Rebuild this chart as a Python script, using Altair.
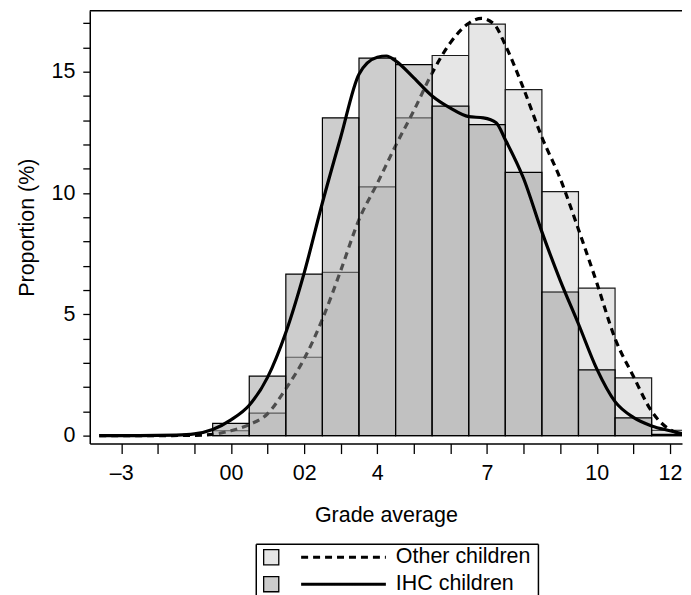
import altair as alt
import pandas as pd

# Histogram bins (grade centres) and proportions (%)
grades = list(range(0, 13))
other_pct = [0.20, 0.93, 3.23, 6.73, 10.25, 13.10, 15.67, 16.96, 14.26, 10.06, 6.08, 2.38, 0.22]
ihc_pct = [0.50, 2.45, 6.66, 13.10, 15.56, 15.29, 13.58, 12.82, 10.85, 5.92, 2.71, 0.73, 0.05]

# Density curves
ihc_x = [-3.6, -2.5, -1.5, -1.0, -0.5, 0.0, 0.5, 1.0, 1.5, 2.0, 2.5, 3.0, 3.5, 4.0, 4.25,
         4.5, 5.0, 5.5, 6.0, 6.5, 6.9, 7.25, 7.5, 8.0, 8.5, 9.0, 9.5, 10.0, 10.5, 11.0,
         11.5, 12.0, 12.5]
ihc_y = [0.0, 0.0, 0.02, 0.07, 0.25, 0.65, 1.25, 2.4, 4.25, 6.7, 9.6, 12.3, 14.9, 15.6, 15.65,
         15.45, 14.75, 14.0, 13.5, 13.15, 13.1, 12.9, 12.2, 10.6, 8.4, 6.4, 4.6, 2.75, 1.4, 0.75,
         0.4, 0.2, 0.02]
other_x = [-3.6, -2.0, -1.0, -0.5, 0.0, 0.5, 1.0, 1.5, 2.0, 2.5, 3.0, 3.5, 4.0, 4.5, 5.0,
           5.5, 6.0, 6.5, 6.85, 7.2, 7.5, 8.0, 8.5, 9.0, 9.5, 10.0, 10.5, 11.0, 11.5, 12.0, 12.5]
other_y = [0.0, 0.0, 0.01, 0.05, 0.2, 0.45, 0.9, 1.93, 3.16, 4.8, 6.8, 8.9, 10.4, 11.95, 13.4,
           14.95, 16.2, 17.0, 17.2, 16.95, 16.1, 14.3, 12.3, 10.6, 8.5, 6.3, 4.0, 2.45, 1.0, 0.25, 0.03]

x_ticks = list(range(-3, 13))
x_labels = {-3: "–3", 0: "00", 2: "02", 4: "4", 7: "7", 10: "10", 12: "12"}
y_ticks = list(range(0, 18))

legend_labels = ["Other children", "IHC children"]
legend_fills = ["#e6e6e6", "#cccccc"]

FONT = "Liberation Sans"
FS = 21.5
W, H = 594, 434

x_expr = " : ".join(f"datum.value == {k} ? '{v}'" for k, v in x_labels.items()) + " : ''"

xscale = alt.Scale(domain=[-3.86, 12.33], nice=False, zero=False)
yscale = alt.Scale(domain=[-0.33, 17.51], nice=False, zero=False)

xaxis = alt.Axis(values=x_ticks, labelExpr=x_expr, title="Grade average", grid=False,
                 tickSize=10, tickWidth=1.3, tickColor="black", domainColor="black",
                 domainWidth=1.5, labelFontSize=FS, titleFontSize=FS, labelColor="black",
                 titleColor="black", titleFontWeight="normal", labelPadding=9,
                 titlePadding=21, labelFlush=False, labelOverlap=False)
yaxis = alt.Axis(values=y_ticks, labelExpr="datum.value % 5 == 0 ? datum.value + '' : ''",
                 title="Proportion (%)", grid=False, tickSize=7, tickWidth=1.3,
                 tickColor="black", domainColor="black", domainWidth=1.5, labelFontSize=FS,
                 titleFontSize=FS, labelColor="black", titleColor="black",
                 titleFontWeight="normal", labelPadding=8, titlePadding=13,
                 labelOverlap=False)

bars = pd.DataFrame({"grade": grades, "other": other_pct, "ihc": ihc_pct})
base = alt.Chart(bars).transform_calculate(lo="datum.grade - 0.5", hi="datum.grade + 0.5")

X = alt.X("lo:Q", scale=xscale, axis=xaxis)

other_bars = base.mark_rect(fill="#e6e6e6", stroke="#1a1a1a", strokeWidth=1.2,
                            clip=True).encode(
    x=X, x2="hi:Q",
    y=alt.Y("other:Q", scale=yscale, axis=yaxis), y2=alt.datum(0))
ihc_bars = base.mark_rect(fill="#9b9b9b", fillOpacity=0.5, stroke="black",
                          strokeWidth=1.2, clip=True).encode(
    x=X, x2="hi:Q",
    y=alt.Y("ihc:Q", scale=yscale, axis=yaxis), y2=alt.datum(0))

other_line = alt.Chart(pd.DataFrame({"g": other_x, "p": other_y})).mark_line(
    color="black", strokeWidth=3.2, strokeDash=[7, 5], interpolate="monotone",
    clip=True).encode(
    x=alt.X("g:Q", scale=xscale, axis=xaxis),
    y=alt.Y("p:Q", scale=yscale, axis=yaxis))
ihc_line = alt.Chart(pd.DataFrame({"g": ihc_x, "p": ihc_y})).mark_line(
    color="black", strokeWidth=3.2, interpolate="monotone", clip=True).encode(
    x=alt.X("g:Q", scale=xscale, axis=xaxis),
    y=alt.Y("p:Q", scale=yscale, axis=yaxis))

top_rule = alt.Chart(pd.DataFrame({"a": [0]})).mark_rule(color="black", strokeWidth=1.5).encode(
    x=alt.value(0), x2=alt.value(W), y=alt.value(0))

main = alt.layer(other_bars, other_line, ihc_bars, ihc_line, top_rule).properties(
    width=W, height=H)

# Legend
LW, LH = 283, 56
leg = pd.DataFrame({"label": legend_labels, "row": [0, 1], "fill": legend_fills})
ly = alt.Y("row:Q", scale=alt.Scale(domain=[0, 1], range=[13, 40]), axis=None)
lbase = alt.Chart(leg)
sq = lbase.mark_square(size=230, stroke="black", strokeWidth=1.3, opacity=1).encode(
    x=alt.value(15), y=ly, fill=alt.Fill("fill:N", scale=None))
lines = lbase.mark_rule(color="black", strokeWidth=3).encode(
    x=alt.value(45), x2=alt.value(130), y=ly,
    strokeDash=alt.StrokeDash("label:N", scale=alt.Scale(domain=legend_labels,
                                                        range=[[7, 5], [1, 0]]), legend=None))
txt = lbase.mark_text(align="left", baseline="middle", fontSize=FS, font=FONT,
                      color="black").encode(x=alt.value(140), y=ly, text="label:N")
one = alt.Chart(pd.DataFrame({"a": [0]}))
b_top = one.mark_rule(color="black", strokeWidth=1.5).encode(
    x=alt.value(0), x2=alt.value(LW), y=alt.value(0))
b_left = one.mark_rule(color="black", strokeWidth=1.5).encode(
    x=alt.value(0), y=alt.value(0), y2=alt.value(LH))
b_right = one.mark_rule(color="black", strokeWidth=1.5).encode(
    x=alt.value(LW), y=alt.value(0), y2=alt.value(LH))
legend = alt.layer(sq, lines, txt, b_top, b_left, b_right).properties(width=LW, height=LH)

spacer = one.mark_point(opacity=0).properties(width=166, height=LH)

bottom = alt.hconcat(spacer, legend, spacing=0)

chart = alt.vconcat(main, bottom, spacing=17).configure(
    font=FONT, padding={"left": 8, "top": 1, "right": 0, "bottom": 0}
).configure_view(stroke=None)

chart.save("out.html", embed_options={"renderer": "svg", "actions": False})
